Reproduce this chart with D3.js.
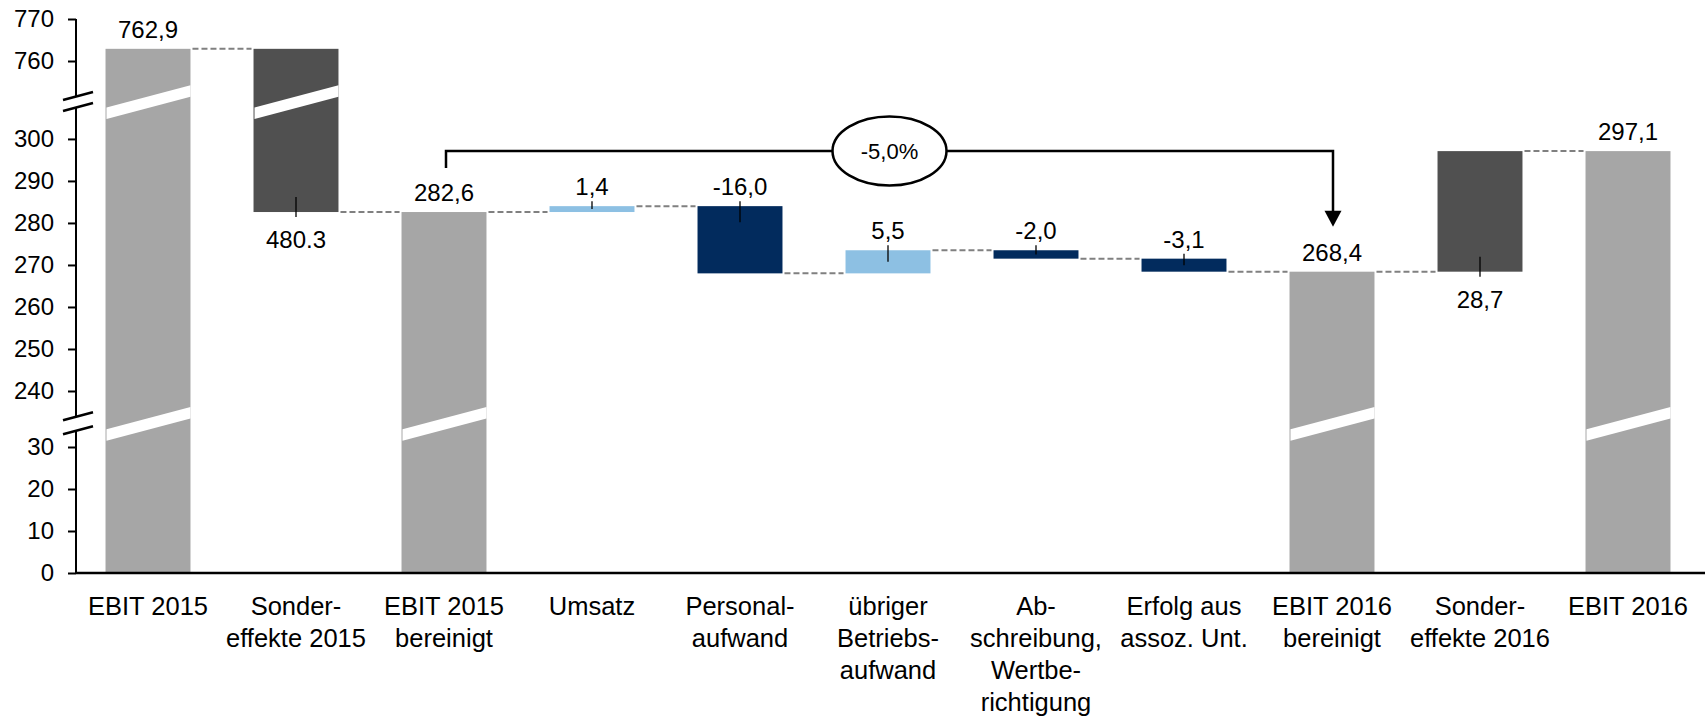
<!DOCTYPE html>
<html lang="de">
<head>
<meta charset="UTF-8">
<title>EBIT 2015 - 2016</title>
<script src="https://d3js.org/d3.v7.min.js"></script>
<style>
  body { margin: 0; background: white; overflow: hidden; }
  text { font-family: "Liberation Sans", Arial, sans-serif; fill: #000; }
</style>
</head>
<body>
<script>
const categories = [
  ["EBIT 2015"],
  ["Sonder-", "effekte 2015"],
  ["EBIT 2015", "bereinigt"],
  ["Umsatz"],
  ["Personal-", "aufwand"],
  ["übriger", "Betriebs-", "aufwand"],
  ["Ab-", "schreibung,", "Wertbe-", "richtigung"],
  ["Erfolg aus", "assoz. Unt."],
  ["EBIT 2016", "bereinigt"],
  ["Sonder-", "effekte 2016"],
  ["EBIT 2016"]
];
const kinds = ["total", "special", "total", "up", "down", "up", "down", "down", "total", "special", "total"];
const values = [762.9, -480.3, 282.6, 1.4, -16.0, 5.5, -2.0, -3.1, 268.4, 28.7, 297.1];
const valueLabels = ["762,9", "480.3", "282,6", "1,4", "-16,0", "5,5", "-2,0", "-3,1", "268,4", "28,7", "297,1"];
const tickValues = [0, 10, 20, 30, 240, 250, 260, 270, 280, 290, 300, 760, 770];
const changeLabel = "-5,0%";
const changeFrom = 2, changeTo = 8;

const width = 1708, height = 717;
const colors = { total: "#a6a6a6", special: "#505050", up: "#8dc0e3", down: "#022b5d" };

// running totals for the waterfall
let level = 0;
const bars = values.map((v, i) => {
  const kind = kinds[i];
  let a, b;
  if (kind === "total") { a = 0; b = v; }
  else { a = level; b = level + v; }
  level = b;
  return { i, kind, lo: Math.min(a, b), hi: Math.max(a, b), end: level, label: valueLabels[i] };
});

// broken y axis: three linear pieces with the same unit size
const breaks = [[34, 234], [307.6, 751.67]];
const y = d3.scaleLinear()
  .domain([0, 34, 234, 307.6, 751.67, 770])
  .range([573, 430.2, 416.2, 107, 96, 19]);

const x = d3.scaleBand()
  .domain(d3.range(categories.length))
  .range([74, 1702])
  .paddingInner(0.426)
  .paddingOuter(0.213);
const bw = x.bandwidth();
const axisX = 76;

const svg = d3.select("body").append("svg")
  .attr("width", width)
  .attr("height", height);

// connectors
svg.append("g").selectAll("line")
  .data(bars.slice(0, -1))
  .join("line")
  .attr("x1", d => x(d.i) + bw + 2)
  .attr("x2", d => x(d.i + 1) - 2)
  .attr("y1", d => y(d.end))
  .attr("y2", d => y(d.end))
  .attr("stroke", "#808080")
  .attr("stroke-width", 2)
  .attr("stroke-dasharray", "6,3");

// bars
svg.append("g").selectAll("rect")
  .data(bars)
  .join("rect")
  .attr("x", d => x(d.i))
  .attr("y", d => y(d.hi))
  .attr("width", bw)
  .attr("height", d => Math.max(1, y(d.lo) - y(d.hi)))
  .attr("fill", d => colors[d.kind]);

// white slanted cuts where a bar crosses an axis break
const cuts = [];
bars.forEach(d => {
  breaks.forEach(([a, b]) => {
    if (d.lo < a && d.hi > b) cuts.push({ d, yc: (y(a) + y(b)) / 2 });
  });
});
svg.append("g").selectAll("polygon")
  .data(cuts)
  .join("polygon")
  .attr("fill", "white")
  .attr("points", c => {
    const xl = x(c.d.i) + 1, xr = x(c.d.i) + bw;
    const t = c.yc + 6, drop = (xr - xl) * 0.264, th = 11.5;
    return [[xl, t], [xr, t - drop], [xr, t - drop + th], [xl, t + th]].join(" ");
  });

// leader ticks for the labels
const leaders = svg.append("g").attr("stroke", "#000").attr("stroke-width", 1.3);
bars.forEach(d => {
  const cx = x(d.i) + bw / 2;
  if (d.kind === "special") {
    leaders.append("line").attr("x1", cx).attr("x2", cx)
      .attr("y1", y(d.lo) - 15).attr("y2", y(d.lo) + 5);
  } else if (d.kind !== "total") {
    const h = y(d.lo) - y(d.hi);
    leaders.append("line").attr("x1", cx).attr("x2", cx)
      .attr("y1", y(d.hi) - 5).attr("y2", y(d.hi) + Math.min(16, h * 0.5));
  }
});

// value labels
svg.append("g").selectAll("text")
  .data(bars)
  .join("text")
  .attr("x", d => x(d.i) + bw / 2)
  .attr("y", d => d.kind === "special" ? y(d.lo) + 36 : y(d.hi) - 11)
  .attr("text-anchor", "middle")
  .attr("font-size", 24)
  .text(d => d.label);

// y axis with ticks, domain drawn in pieces
const yAxis = svg.append("g")
  .attr("transform", `translate(${axisX},0)`)
  .call(d3.axisLeft(y).tickValues(tickValues).tickSize(8).tickPadding(14).tickFormat(d3.format("d")));
yAxis.select(".domain").remove();
yAxis.selectAll(".tick line").attr("stroke", "#000").attr("stroke-width", 2);
yAxis.selectAll(".tick text")
  .attr("font-size", 24)
  .attr("font-family", "'Liberation Sans', Arial, sans-serif")
  .attr("fill", "#000");

const segments = [[0, 34], [234, 307.6], [751.67, 770]];
svg.append("g").selectAll("line")
  .data(segments)
  .join("line")
  .attr("x1", axisX).attr("x2", axisX)
  .attr("y1", d => y(d[0]))
  .attr("y2", d => y(d[1]))
  .attr("stroke", "#000")
  .attr("stroke-width", 2);

// break marks
const marks = breaks.flat().map(v => y(v));
svg.append("g").selectAll("line")
  .data(marks)
  .join("line")
  .attr("x1", axisX - 13).attr("x2", axisX + 17)
  .attr("y1", d => d + 4).attr("y2", d => d - 4)
  .attr("stroke", "#000")
  .attr("stroke-width", 2.5);

// x axis line
svg.append("line")
  .attr("x1", axisX).attr("x2", 1705)
  .attr("y1", y(0)).attr("y2", y(0))
  .attr("stroke", "#000")
  .attr("stroke-width", 2.5);

// category labels
const xl = svg.append("g").selectAll("text")
  .data(categories)
  .join("text")
  .attr("text-anchor", "middle")
  .attr("font-size", 25.5)
  .attr("y", 615);
xl.selectAll("tspan")
  .data((d, i) => d.map(s => ({ s, i })))
  .join("tspan")
  .attr("x", d => x(d.i) + bw / 2)
  .attr("dy", (d, j) => j === 0 ? 0 : 32)
  .text(d => d.s);

// change bracket from EBIT 2015 bereinigt to EBIT 2016 bereinigt
const xa = x(changeFrom) + bw / 2 + 2;
const xb = x(changeTo) + bw / 2 + 1;
const yLine = 151;
const ya = y(bars[changeFrom].hi) - 44;
const tip = y(bars[changeTo].hi) - 45;
svg.append("path")
  .attr("d", `M${xa},${ya}V${yLine}H${xb}V${tip - 15}`)
  .attr("fill", "none")
  .attr("stroke", "#000")
  .attr("stroke-width", 2.5);
svg.append("polygon")
  .attr("points", [[xb - 8.5, tip - 16], [xb + 8.5, tip - 16], [xb, tip]].join(" "))
  .attr("fill", "#000");

const cx = (xa + xb) / 2;
svg.append("ellipse")
  .attr("cx", cx).attr("cy", yLine)
  .attr("rx", 57).attr("ry", 34.5)
  .attr("fill", "white")
  .attr("stroke", "#000")
  .attr("stroke-width", 2.5);
svg.append("text")
  .attr("x", cx).attr("y", yLine)
  .attr("dy", "0.36em")
  .attr("text-anchor", "middle")
  .attr("font-size", 22)
  .text(changeLabel);
</script>
</body>
</html>
